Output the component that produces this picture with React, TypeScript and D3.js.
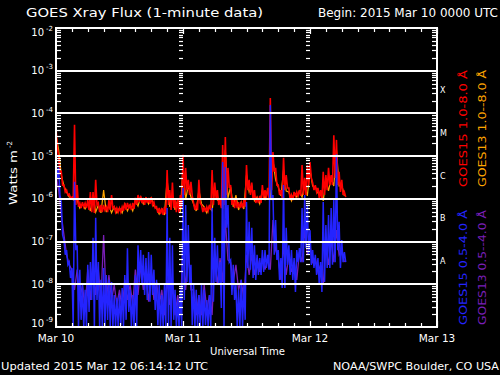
import React from 'react';
import * as d3 from 'd3';

const WIDTH = 500;
const HEIGHT = 375;
const START = new Date(Date.UTC(2015, 2, 10));
const END = new Date(Date.UTC(2015, 2, 13));
const HOUR_MS = 3600 * 1000;

const titleText = 'GOES Xray Flux (1-minute data)';
const beginText = 'Begin:  2015 Mar 10 0000 UTC';
const updatedText = 'Updated 2015 Mar 12 06:14:12 UTC';
const creditText = 'NOAA/SWPC Boulder, CO USA';
const xAxisTitle = 'Universal Time';
const yAxisTitle = 'Watts m';
const yAxisTitleExp = '-2';
const dayLabels = ['Mar 10', 'Mar 11', 'Mar 12', 'Mar 13'];
const decadeExponents = [-2, -3, -4, -5, -6, -7, -8, -9];
const flareClasses = ['X', 'M', 'C', 'B', 'A'];
const flareClassLower = [1e-4, 1e-5, 1e-6, 1e-7, 1e-8];
const legendLabels = ['GOES15 1.0-8.0 \u00c5', 'GOES13 1.0--8.0 \u00c5', 'GOES15 0.5-4.0 \u00c5', 'GOES13 0.5--4.0 \u00c5'];
const seriesColors = ['#ff0000', '#ffa500', '#2424ff', '#7a1fb8'];

// bins: each bin holds the highest and lowest flux seen in it (W m^-2)
const goes15StepHours = 0.5;
const goes13StepHours = 1;

const goes15LongHi = [
  4.8e-5, 9.6e-6, 4.3e-6, 2.1e-6, 1.6e-6, 1.3e-6, 1.1e-6, 5.4e-5, 2.1e-6, 8.0e-7,
  8.4e-7, 8.0e-7, 9.4e-7, 1.45e-6, 1.45e-6, 2.8e-6, 8.0e-7, 7.2e-7, 7.2e-7, 6.5e-7,
  9.4e-7, 1.23e-6, 6.5e-7, 6.1e-7, 6.1e-7, 6.5e-7, 8.0e-7, 8.0e-7, 7.2e-7, 8.0e-7,
  1.05e-6, 1.23e-6, 1.17e-6, 1.05e-6, 1.1e-6, 1.05e-6, 1.1e-6, 8.4e-7, 6.5e-7, 6.1e-7,
  6.1e-7, 6.5e-7, 4.75e-6, 1.6e-6, 2.4e-6, 9.4e-7, 1.05e-6, 1.23e-6, 1.07e-5, 5.3e-6,
  2.8e-6, 2.5e-6, 8.0e-7, 7.2e-7, 2.8e-6, 7.2e-7, 6.5e-7, 6.5e-7, 7.2e-7, 4.75e-6,
  2.4e-6, 1.6e-6, 9.4e-7, 1.83e-5, 2.8e-5, 5.3e-6, 2.1e-6, 1.05e-6, 9.4e-7, 8.4e-7,
  8.0e-7, 9.4e-7, 6.2e-6, 2.8e-6, 2.4e-6, 1.6e-6, 1.05e-6, 1.17e-6, 2.1e-6, 1.6e-6,
  1.8e-6, 2.3e-4, 1.25e-5, 5.3e-6, 2.1e-6, 1.6e-6, 9.1e-6, 3.6e-6, 1.8e-6, 1.23e-6,
  1.45e-6, 1.45e-6, 1.6e-6, 6.2e-6, 3.1e-6, 6.2e-6, 7.3e-6, 2.4e-6, 2.1e-6, 1.8e-6,
  1.6e-6, 4.3e-6, 3.6e-6, 5.3e-6, 3.6e-6, 3.1e-5, 2.4e-5, 4.3e-6, 2.8e-6, 1.45e-6,
];
const goes15LongLo = [
  1.6e-5, 4.0e-6, 2.1e-6, 1.45e-6, 1.23e-6, 1.05e-6, 9.4e-7, 7.2e-7, 6.5e-7, 6.1e-7,
  6.5e-7, 6.1e-7, 5.5e-7, 4.9e-7, 4.7e-7, 7.2e-7, 4.9e-7, 4.9e-7, 5.5e-7, 4.9e-7,
  5.5e-7, 6.1e-7, 4.9e-7, 4.9e-7, 4.9e-7, 5.2e-7, 5.5e-7, 6.1e-7, 5.5e-7, 5.8e-7,
  7.2e-7, 8.4e-7, 8.0e-7, 7.2e-7, 8.0e-7, 7.6e-7, 7.2e-7, 6.1e-7, 4.7e-7, 4.4e-7,
  4.2e-7, 4.4e-7, 7.2e-7, 5.5e-7, 6.1e-7, 4.9e-7, 4.7e-7, 6.1e-7, 1.23e-6, 1.6e-6,
  1.23e-6, 1.17e-6, 5.5e-7, 5.5e-7, 8.0e-7, 4.9e-7, 4.9e-7, 5.2e-7, 5.5e-7, 7.2e-7,
  1.05e-6, 7.2e-7, 6.1e-7, 7.2e-7, 1.23e-6, 1.8e-6, 7.2e-7, 6.1e-7, 6.1e-7, 6.1e-7,
  6.1e-7, 6.5e-7, 1.6e-6, 1.23e-6, 9.4e-7, 8.0e-7, 8.0e-7, 8.0e-7, 1.05e-6, 1.05e-6,
  1.05e-6, 1.6e-6, 4.3e-6, 2.1e-6, 1.23e-6, 1.05e-6, 1.6e-6, 1.8e-6, 9.4e-7, 9.4e-7,
  1.17e-6, 1.17e-6, 1.17e-6, 1.23e-6, 1.23e-6, 2.1e-6, 3.1e-6, 1.6e-6, 1.45e-6, 1.05e-6,
  9.4e-7, 1.23e-6, 1.6e-6, 2.1e-6, 2.1e-6, 3.1e-6, 2.1e-6, 1.45e-6, 1.23e-6, 1.1e-6,
];
const goes15ShortHi = [
  7.3e-6, 5.3e-6, 8.4e-7, 1.09e-7, 6.3e-8, 3.3e-8, 2.4e-8, 2.5e-6, 8.2e-8, 2.2e-8,
  9.7e-9, 7.4e-9, 2.85e-8, 3.3e-8, 1.22e-7, 3.6e-7, 3.3e-8, 1.27e-8, 2.4e-8, 1.65e-8,
  1.27e-8, 1.13e-8, 5.6e-9, 4.8e-9, 5.6e-9, 8.2e-9, 1.65e-8, 7.0e-8, 7.4e-9, 5.6e-9,
  1.65e-8, 8.2e-8, 6.3e-8, 4.9e-8, 4.1e-8, 5.7e-8, 4.9e-8, 2.2e-8, 1.27e-8, 9.7e-9,
  5.6e-9, 9.7e-9, 6.1e-7, 1.22e-7, 8.2e-8, 7.4e-9, 4.3e-9, 7.4e-9, 1.8e-6, 7.2e-7,
  2.45e-7, 2.85e-8, 9.7e-9, 7.4e-9, 5.6e-9, 9.7e-9, 7.4e-9, 4.3e-9, 5.6e-9, 6.1e-7,
  1.22e-7, 8.2e-8, 3.3e-8, 7.3e-6, 5.6e-6, 7.2e-7, 3.7e-8, 2.85e-8, 9.7e-9, 7.4e-9,
  1.27e-8, 9.7e-9, 8.4e-7, 2.9e-7, 2.1e-7, 8.2e-8, 4.9e-8, 4.1e-8, 6.3e-8, 6.3e-8,
  4.9e-8, 1.58e-4, 1.23e-6, 3.2e-7, 6.3e-8, 4.1e-8, 2.1e-6, 2.1e-7, 8.2e-8, 6.3e-8,
  4.1e-8, 6.3e-8, 7.0e-8, 6.1e-7, 1.23e-6, 7.2e-7, 1.85e-7, 6.3e-8, 4.9e-8, 4.1e-8,
  3.3e-8, 8.4e-7, 2.45e-7, 4.2e-7, 6.1e-7, 9.4e-7, 1.1e-5, 2.9e-7, 1.09e-7, 5.7e-8,
];
const goes15ShortLo = [
  3.1e-6, 1.23e-6, 1.43e-7, 4.9e-8, 2.85e-8, 1.4e-8, 1e-9, 6.3e-8, 1e-9, 1.47e-9,
  1e-9, 1e-9, 2.25e-9, 4.3e-9, 1e-9, 4.3e-9, 1e-9, 1e-9, 1e-9, 1.47e-9,
  1e-9, 1e-9, 1e-9, 1e-9, 1.1e-9, 1e-9, 1.47e-9, 2.25e-9, 1e-9, 1e-9,
  1e-9, 1.13e-8, 9.7e-9, 5.6e-9, 4.3e-9, 3.9e-9, 5.6e-9, 2.5e-9, 1.1e-9, 1e-9,
  1e-9, 1e-9, 1e-9, 1e-9, 1.47e-9, 1e-9, 1e-9, 1e-9, 4.3e-9, 1.13e-8,
  9.7e-9, 1.1e-9, 1e-9, 1e-9, 1e-9, 1e-9, 1.1e-9, 1e-9, 1e-9, 3.9e-9,
  1.13e-8, 9.7e-9, 2.8e-9, 1e-9, 2.1e-7, 3.3e-8, 5.6e-9, 4.3e-9, 1e-9, 1e-9,
  1e-9, 1.47e-9, 2.4e-8, 2.2e-8, 1.4e-8, 1.27e-8, 1.65e-8, 1.65e-8, 1.95e-8, 2.4e-8,
  2.2e-8, 9.4e-7, 4.9e-8, 3.7e-8, 1.27e-8, 8.2e-9, 8.2e-9, 2.85e-8, 1.65e-8, 1.27e-8,
  6.6e-9, 3.3e-8, 3.3e-8, 3.3e-8, 7.0e-8, 4.9e-8, 2.85e-8, 2.4e-8, 1.65e-8, 9.7e-9,
  6.6e-9, 1.13e-8, 2.4e-8, 2.4e-8, 2.85e-8, 3.3e-8, 6.3e-8, 2.4e-8, 3.3e-8, 3.3e-8,
];
const goes13LongHi = [
  3.1e-5, 3.6e-6, 1.45e-6, 1.05e-6, 9.4e-7, 7.6e-7, 8.0e-7, 1.23e-6, 7.2e-7, 1.6e-6,
  7.2e-7, 6.5e-7, 6.1e-7, 7.6e-7, 7.2e-7, 9.4e-7, 1.1e-6, 1.05e-6, 1.05e-6, 6.1e-7,
  5.8e-7, 2.8e-6, 1.23e-6, 9.4e-7, 6.2e-6, 2.1e-6, 7.6e-7, 1.6e-6, 6.5e-7, 6.8e-7,
  1.8e-6, 9.0e-7, 1.4e-5, 1.9e-6, 1.23e-6, 8.4e-7, 3.6e-6, 2.0e-6, 1.1e-6, 1.6e-6,
  1.6e-6, 8.1e-6, 1.9e-6, 4.75e-6, 1.45e-6, 1.37e-6, 1.53e-6, 2.1e-6, 4.75e-6, 1.9e-6,
  1.45e-6, 2.8e-6, 3.1e-6, 1.4e-5, 2.1e-6,
];
const goes13LongLo = [
  1.4e-5, 2.0e-6, 1.1e-6, 9.0e-7, 6.1e-7, 5.8e-7, 5.2e-7, 4.9e-7, 4.7e-7, 4.9e-7,
  4.7e-7, 4.7e-7, 4.7e-7, 5.2e-7, 5.2e-7, 6.8e-7, 7.6e-7, 7.6e-7, 6.8e-7, 4.4e-7,
  4.2e-7, 6.5e-7, 5.5e-7, 4.7e-7, 9.4e-7, 1.1e-6, 5.2e-7, 7.6e-7, 4.7e-7, 5.2e-7,
  9.4e-7, 5.8e-7, 1.05e-6, 6.5e-7, 5.5e-7, 5.8e-7, 1.45e-6, 9.0e-7, 7.6e-7, 1.0e-6,
  1.0e-6, 2.8e-6, 1.17e-6, 1.53e-6, 9.0e-7, 1.1e-6, 1.1e-6, 1.17e-6, 2.0e-6, 1.37e-6,
  9.0e-7, 1.53e-6, 2.0e-6, 2.0e-6, 1.17e-6,
];
const goes13ShortHi = [
  3.6e-6, 4.2e-7, 4.9e-8, 2.2e-8, 2.2e-8, 9.7e-9, 2.2e-8, 3.7e-8, 2.2e-8, 1.43e-7,
  1.65e-8, 9.7e-9, 7.4e-9, 1.27e-8, 9.7e-9, 2.2e-8, 2.85e-8, 1.65e-8, 2.2e-8, 1.13e-8,
  7.4e-9, 1.27e-8, 8.2e-9, 5.6e-9, 1.09e-7, 6.3e-8, 7.4e-9, 5.6e-9, 9.7e-9, 5.6e-9,
  4.9e-8, 4.1e-8, 3.2e-7, 3.3e-8, 2.85e-8, 1.27e-8, 4.9e-8, 4.9e-8, 4.1e-8, 4.1e-8,
  4.1e-8, 3.2e-7, 4.1e-8, 8.2e-8, 4.9e-8, 3.3e-8, 5.7e-8, 1.85e-7, 8.2e-8, 4.1e-8,
  2.85e-8, 8.2e-8, 1.09e-7, 1.85e-7, 6.3e-8,
];
const goes13ShortLo = [
  1.6e-6, 1.43e-7, 2.85e-8, 7.4e-9, 4.3e-9, 2.5e-9, 4.3e-9, 5.6e-9, 4.3e-9, 3.9e-9,
  4.3e-9, 3.3e-9, 2.5e-9, 4.3e-9, 3.3e-9, 5.6e-9, 7.4e-9, 3.9e-9, 4.3e-9, 3.3e-9,
  1.9e-9, 3.3e-9, 1.9e-9, 1.9e-9, 7.4e-9, 7.4e-9, 1.9e-9, 1.9e-9, 2.5e-9, 1.9e-9,
  9.7e-9, 1.13e-8, 3.7e-8, 1.13e-8, 7.4e-9, 4.3e-9, 1.65e-8, 1.65e-8, 1.95e-8, 2.2e-8,
  2.2e-8, 6.3e-8, 1.27e-8, 1.65e-8, 1.95e-8, 1.27e-8, 3.3e-8, 4.9e-8, 3.3e-8, 1.95e-8,
  9.7e-9, 2.85e-8, 3.3e-8, 4.9e-8, 3.3e-8,
];

const PLOT = { left: 56, right: 437, top: 28, bottom: 327 };

export default function App() {
  const x = d3.scaleUtc().domain([START, END]).range([PLOT.left, PLOT.right]);
  const y = d3.scaleLog().domain([1e-9, 1e-2]).range([PLOT.bottom, PLOT.top]).clamp(true);
  const at = (h: number) => new Date(START.getTime() + h * HOUR_MS);

  const zig = (hi: number[], lo: number[], step: number): [number, number][] =>
    hi.flatMap((v, i) => [[i * step, v], [i * step + step / 2, lo[i]]] as [number, number][]);
  const line = d3
    .line<[number, number]>()
    .x((d) => x(at(d[0])))
    .y((d) => y(d[1]));

  const series = [
    { d: line(zig(goes13LongHi, goes13LongLo, goes13StepHours)), c: seriesColors[1], w: 1.2 },
    { d: line(zig(goes15LongHi, goes15LongLo, goes15StepHours)), c: seriesColors[0], w: 1.6 },
    { d: line(zig(goes13ShortHi, goes13ShortLo, goes13StepHours)), c: seriesColors[3], w: 1.3 },
    { d: line(zig(goes15ShortHi, goes15ShortLo, goes15StepHours)), c: seriesColors[2], w: 1.5 },
  ];

  const minorFlux: number[] = [];
  for (let e = -9; e <= -3; e++) for (let m = 2; m <= 9; m++) minorFlux.push(m * Math.pow(10, e));

  const hourTicks = d3.utcHour.every(3)!.range(START, new Date(END.getTime() + 1));
  const days = d3.utcDay.range(START, new Date(END.getTime() + 1));
  const innerDays = days.slice(1, -1);

  const font = 'DejaVu Sans';
  const white = '#ffffff';

  return (
    <svg
      width={WIDTH}
      height={HEIGHT}
      style={{ position: 'absolute', left: 0, top: 0, display: 'block' }}
      fontFamily={font}
    >
      <rect x={0} y={0} width={WIDTH} height={HEIGHT} fill="#000" />
      <defs>
        <clipPath id="plotclip">
          <rect x={PLOT.left} y={PLOT.top} width={PLOT.right - PLOT.left} height={PLOT.bottom - PLOT.top} />
        </clipPath>
      </defs>

      <g clipPath="url(#plotclip)">
        {series.map((s, i) => (
          <path key={i} d={s.d || ''} fill="none" stroke={s.c} strokeWidth={s.w} strokeLinejoin="miter" />
        ))}
      </g>

      {decadeExponents.slice(1, -1).map((e) => {
        const yy = Math.round(y(Math.pow(10, e)));
        return <line key={e} x1={PLOT.left} x2={PLOT.right} y1={yy} y2={yy} stroke={white} strokeWidth={2} />;
      })}

      {minorFlux.map((f, i) => {
        const yy = Math.round(y(f)) + 0.5;
        return (
          <g key={i} stroke={white} strokeWidth={1.2}>
            <line x1={PLOT.left} x2={PLOT.left + 5} y1={yy} y2={yy} />
            <line x1={PLOT.right - 5} x2={PLOT.right} y1={yy} y2={yy} />
            {innerDays.map((d, j) => {
              const xx = Math.round(x(d));
              return <line key={j} x1={xx - 4} x2={xx} y1={yy} y2={yy} />;
            })}
          </g>
        );
      })}

      {hourTicks.map((d, i) => {
        const xx = Math.round(x(d)) + 0.5;
        const isDay = d.getUTCHours() === 0;
        const len = isDay ? 6 : 4;
        return (
          <g key={i} stroke={white} strokeWidth={1.2}>
            <line x1={xx} x2={xx} y1={PLOT.top} y2={PLOT.top + len} />
            <line x1={xx} x2={xx} y1={PLOT.bottom} y2={PLOT.bottom - len} />
          </g>
        );
      })}

      <rect
        x={PLOT.left}
        y={PLOT.top}
        width={PLOT.right - PLOT.left}
        height={PLOT.bottom - PLOT.top}
        fill="none"
        stroke={white}
        strokeWidth={2}
      />

      {decadeExponents.map((e, i) => {
        let yy = y(Math.pow(10, e));
        if (i === 0) yy += 4;
        if (i === decadeExponents.length - 1) yy -= 4;
        return (
          <g key={e} fill={white}>
            <text x={44} y={yy + 3.5} fontSize={10} textAnchor="end">10</text>
            <text x={46} y={yy - 1.5} fontSize={7}>{String(e)}</text>
          </g>
        );
      })}

      {flareClasses.map((c, i) => (
        <text key={c} x={440} y={y(flareClassLower[i] * Math.sqrt(10)) + 1} fontSize={8} fill={white}>
          {c}
        </text>
      ))}

      {days.map((d, i) => (
        <text key={i} x={x(d)} y={342} fontSize={10.5} fill={white} textAnchor="middle">
          {dayLabels[i]}
        </text>
      ))}

      <text x={26} y={17} fontSize={11.5} fill={white} textLength={237} lengthAdjust="spacingAndGlyphs">
        {titleText}
      </text>
      <text x={318} y={17} fontSize={11.5} fill={white} textLength={180} lengthAdjust="spacingAndGlyphs">
        {beginText}
      </text>
      <text x={210} y={355} fontSize={11} fill={white} textLength={75} lengthAdjust="spacingAndGlyphs">
        {xAxisTitle}
      </text>
      <text x={1} y={370} fontSize={11} fill={white} textLength={207} lengthAdjust="spacingAndGlyphs">
        {updatedText}
      </text>
      <text x={333} y={370} fontSize={11} fill={white} textLength={166} lengthAdjust="spacingAndGlyphs">
        {creditText}
      </text>

      <g transform="translate(17,205) rotate(-90)" fill={white}>
        <text x={0} y={0} fontSize={11} textLength={55} lengthAdjust="spacingAndGlyphs">
          {yAxisTitle}
        </text>
        <text x={57} y={-5} fontSize={7}>
          {yAxisTitleExp}
        </text>
      </g>

      {[
        { tx: 467, ty: 187, len: 117 },
        { tx: 486, ty: 187, len: 117 },
        { tx: 467, ty: 325, len: 115 },
        { tx: 486, ty: 325, len: 115 },
      ].map((p, i) => (
        <text
          key={i}
          transform={`translate(${p.tx},${p.ty}) rotate(-90)`}
          fontSize={11}
          fill={seriesColors[i]}
          textLength={p.len}
          lengthAdjust="spacingAndGlyphs"
        >
          {legendLabels[i]}
        </text>
      ))}
    </svg>
  );
}
